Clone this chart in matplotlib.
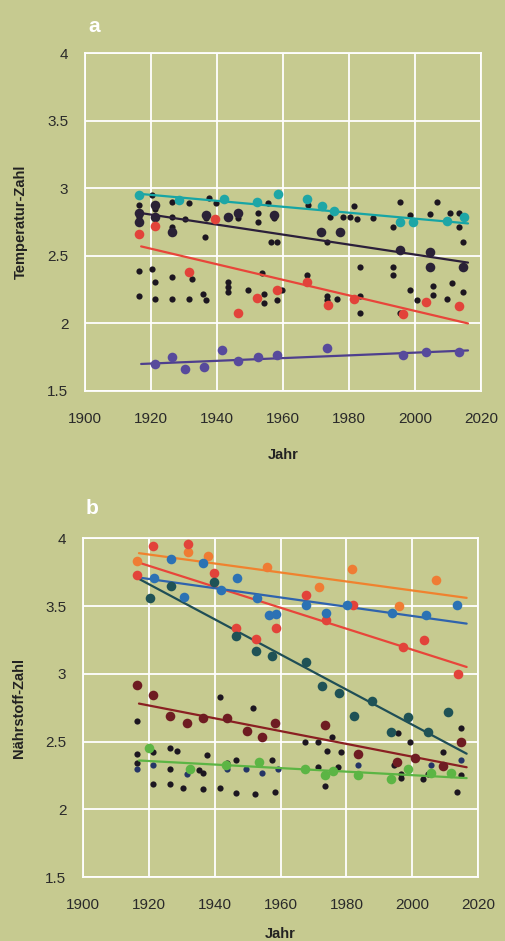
import matplotlib.pyplot as plt

plt.rcParams['font.family'] = ['Liberation Sans', 'DejaVu Sans']

BG = '#c6ca90'

# ---- panel a: Temperatur-Zahl ----
a_black_x = [1920.3, 1916.4, 1921.2, 1926.4, 1931.5, 1937.6, 1939.7, 1916.4, 1926.4, 1926.4,
             1930.3, 1936.7, 1946.4, 1952.4, 1952.4, 1957.3, 1936.4, 1956.4, 1958.2, 1955.5,
             1916.4, 1920.3, 1921.2, 1926.4, 1932.4, 1916.4, 1921.2, 1926.4, 1931.5, 1935.8,
             1936.7, 1943.3, 1943.3, 1943.3, 1949.4, 1953.6, 1954.2, 1954.2, 1958.2, 1959.7,
             1967.6, 1981.5, 1974.2, 1978.2, 1980.3, 1982.4, 1987.3, 1995.5, 2006.7, 1998.5,
             2004.5, 2010.6, 2013.3, 1993.3, 2013.3, 1973.3, 2014.5, 1983.3, 1993.3, 1993.3,
             1967.3, 2011.2, 2005.5, 2005.5, 2014.5, 1998.5, 2000.6, 2009.7, 1973.3, 1973.3,
             1976.4, 1983.3, 1983.3, 1995.5]
a_black_y = [2.95, 2.88, 2.85, 2.90, 2.89, 2.93, 2.89, 2.79, 2.79, 2.71,
             2.77, 2.78, 2.78, 2.82, 2.75, 2.78, 2.64, 2.60, 2.60, 2.89,
             2.39, 2.40, 2.31, 2.34, 2.33, 2.20, 2.18, 2.18, 2.18, 2.22,
             2.17, 2.31, 2.27, 2.23, 2.25, 2.37, 2.22, 2.15, 2.17, 2.25,
             2.88, 2.87, 2.79, 2.79, 2.79, 2.77, 2.78, 2.90, 2.90, 2.80,
             2.81, 2.82, 2.82, 2.71, 2.71, 2.60, 2.60, 2.42, 2.42, 2.36,
             2.36, 2.30, 2.28, 2.21, 2.23, 2.25, 2.17, 2.18, 2.20, 2.17,
             2.18, 2.20, 2.08, 2.08]
a_dark_x = [1916.4, 1916.4, 1921.2, 1921.2, 1926.4, 1936.7, 1943.3, 1946.4, 1957.3, 1971.5,
            1977.3, 1995.5, 2004.5, 2004.5, 2014.5]
a_dark_y = [2.82, 2.75, 2.88, 2.79, 2.68, 2.80, 2.79, 2.82, 2.80, 2.68,
            2.68, 2.54, 2.53, 2.42, 2.42]
a_cyan_x = [1916.4, 1928.5, 1942.0, 1952.1, 1958.5, 1967.3, 1971.8, 1975.5, 1995.5, 1999.4,
            2009.7, 2014.8]
a_cyan_y = [2.95, 2.91, 2.92, 2.90, 2.96, 2.92, 2.87, 2.83, 2.75, 2.75,
            2.76, 2.79]
a_red_x = [1916.4, 1921.2, 1939.4, 1931.5, 1946.4, 1952.1, 1958.2, 1967.3, 1973.6, 1981.5,
           1996.4, 2003.3, 2013.3]
a_red_y = [2.66, 2.72, 2.77, 2.38, 2.08, 2.19, 2.25, 2.31, 2.14, 2.18,
           2.07, 2.16, 2.13]
a_purple_x = [1921.2, 1926.4, 1930.3, 1936.0, 1941.5, 1946.4, 1952.4, 1958.2, 1973.3, 1996.4,
              2003.3, 2013.3]
a_purple_y = [1.70, 1.75, 1.66, 1.68, 1.80, 1.72, 1.75, 1.77, 1.82, 1.77,
              1.79, 1.79]

# trend lines: (start year, end year), (start value, end value)
a_trends = {
    'black': ((1916, 2016), (2.82, 2.45)),
    'cyan': ((1916, 2016), (2.96, 2.74)),
    'red': ((1917, 2016), (2.57, 2.00)),
    'purple': ((1917, 2016), (1.70, 1.80)),
}

# ---- panel b: Naehrstoff-Zahl ----
b_black_x = [1916.4, 1916.4, 1916.4, 1921.3, 1921.3, 1926.4, 1928.6, 1926.4, 1926.4, 1930.4,
             1935.2, 1936.5, 1936.5, 1937.7, 1941.6, 1941.6, 1943.7, 1946.5, 1946.5, 1951.6,
             1952.3, 1957.4, 1958.3, 1967.4, 1971.4, 1971.4, 1973.5, 1974.1, 1975.6, 1978.4,
             1977.5, 1994.5, 1995.7, 1996.6, 1996.6, 1999.3, 2003.3, 2004.8, 2009.4, 2014.8,
             2014.8, 2013.6]
b_black_y = [2.65, 2.41, 2.34, 2.42, 2.19, 2.45, 2.43, 2.30, 2.19, 2.16,
             2.29, 2.27, 2.15, 2.40, 2.83, 2.16, 2.34, 2.36, 2.12, 2.75,
             2.11, 2.36, 2.13, 2.50, 2.50, 2.31, 2.17, 2.43, 2.53, 2.42,
             2.31, 2.33, 2.56, 2.26, 2.23, 2.50, 2.22, 2.26, 2.42, 2.60,
             2.25, 2.13]
b_navy_x = [1916.4, 1921.3, 1931.6, 1943.7, 1949.5, 1954.4, 1959.2, 1983.5, 2005.7, 2014.8]
b_navy_y = [2.30, 2.33, 2.26, 2.30, 2.30, 2.27, 2.30, 2.33, 2.33, 2.36]
b_orange_x = [1916.4, 1931.9, 1938.0, 1955.9, 1971.7, 1981.7, 1996.0, 2007.2]
b_orange_y = [3.83, 3.90, 3.87, 3.79, 3.64, 3.77, 3.50, 3.69]
b_red_x = [1916.4, 1921.3, 1931.9, 1939.8, 1946.5, 1952.6, 1958.6, 1967.7, 1973.8, 1982.0,
           1997.2, 2003.6, 2013.9]
b_red_y = [3.73, 3.94, 3.96, 3.74, 3.34, 3.26, 3.34, 3.58, 3.40, 3.51,
           3.20, 3.25, 3.00]
b_blue_x = [1921.6, 1926.7, 1930.7, 1936.5, 1941.9, 1946.8, 1952.9, 1956.5, 1958.6, 1967.7,
            1973.8, 1980.2, 1993.9, 2004.2, 2013.6]
b_blue_y = [3.71, 3.85, 3.57, 3.82, 3.62, 3.71, 3.56, 3.43, 3.44, 3.51,
            3.45, 3.51, 3.45, 3.43, 3.51]
b_teal_x = [1920.4, 1926.7, 1939.8, 1946.5, 1952.6, 1957.4, 1967.7, 1972.6, 1977.8, 1982.3,
            1987.8, 1993.6, 1998.7, 2004.8, 2010.9]
b_teal_y = [3.56, 3.65, 3.68, 3.28, 3.17, 3.13, 3.09, 2.91, 2.86, 2.69,
            2.80, 2.57, 2.68, 2.57, 2.72]
b_maroon_x = [1916.4, 1921.3, 1926.4, 1931.6, 1936.5, 1943.7, 1949.8, 1954.4, 1958.3, 1973.5,
              1983.5, 1995.4, 2000.9, 2009.4, 2014.8]
b_maroon_y = [2.92, 2.84, 2.69, 2.64, 2.67, 2.67, 2.58, 2.53, 2.64, 2.62,
              2.41, 2.35, 2.38, 2.32, 2.50]
b_green_x = [1920.1, 1932.5, 1943.4, 1953.5, 1967.4, 1973.5, 1976.0, 1983.5, 1993.6, 1998.7,
             2005.7, 2011.8]
b_green_y = [2.45, 2.30, 2.33, 2.35, 2.30, 2.25, 2.28, 2.25, 2.22, 2.30,
             2.27, 2.27]

b_trends = {
    'orange': ((1917, 2016.5), (3.89, 3.56)),
    'red': ((1917, 2016.5), (3.82, 3.05)),
    'blue': ((1917, 2016.5), (3.71, 3.37)),
    'teal': ((1917, 2016.5), (3.70, 2.41)),
    'maroon': ((1917, 2016.5), (2.78, 2.31)),
    'green': ((1917, 2016.5), (2.36, 2.23)),
}

colors = {
    'black': '#1c1620', 'dark': '#2a2236', 'cyan': '#1ea6a6', 'red': '#e2433a',
    'purple': '#574a9c', 'orange': '#ef7c34', 'blue': '#2c72b4', 'teal': '#1f5256',
    'maroon': '#6e1c22', 'green': '#5cb544', 'navy': '#253566',
}
line_colors = {
    'black': '#2b1f3a', 'cyan': '#16a5a5', 'red': '#e8453a', 'purple': '#4e3f8e',
    'orange': '#f0822e', 'blue': '#2f63ad', 'teal': '#1f4e56', 'maroon': '#8a1f22',
    'green': '#5cb544',
}

SMALL = 20
BIG = 48


def style_axes(ax, ylabel):
    ax.set_facecolor(BG)
    ax.set_xlim(1900, 2020)
    ax.set_ylim(1.5, 4)
    ax.set_xticks([1900, 1920, 1940, 1960, 1980, 2000, 2020])
    ax.set_yticks([1.5, 2, 2.5, 3, 3.5, 4])
    ax.set_yticklabels(['1.5', '2', '2.5', '3', '3.5', '4'])
    ax.grid(True, color='white', lw=1.3)
    ax.set_axisbelow(True)
    for s in ax.spines.values():
        s.set_color('white')
        s.set_linewidth(1.3)
    ax.tick_params(length=0, labelsize=11, colors='#2a2a2a')
    ax.tick_params(axis='x', pad=15)
    ax.tick_params(axis='y', pad=12)
    ax.set_xlabel('Jahr', fontsize=10.5, fontweight='bold', color='#222222')
    ax.xaxis.set_label_coords(0.5, -0.17)
    ax.set_ylabel(ylabel, fontsize=10.5, fontweight='bold', color='#222222')
    ax.yaxis.set_label_coords(-0.145, 0.5)


def draw_trends(ax, trends):
    for name, (xs, ys) in trends.items():
        ax.plot(xs, ys, color=line_colors[name], lw=1.6, zorder=3, solid_capstyle='round')


fig = plt.figure(figsize=(5.06, 9.41), dpi=100, facecolor=BG)
ax_a = fig.add_axes([0.168, 0.5845, 0.783, 0.359])
ax_b = fig.add_axes([0.164, 0.068, 0.781, 0.360])

# panel a
style_axes(ax_a, 'Temperatur-Zahl')
ax_a.scatter(a_black_x, a_black_y, s=SMALL, color=colors['black'], lw=0, zorder=2)
ax_a.scatter(a_dark_x, a_dark_y, s=BIG, color=colors['dark'], lw=0, zorder=2)
draw_trends(ax_a, a_trends)
ax_a.scatter(a_cyan_x, a_cyan_y, s=BIG, color=colors['cyan'], lw=0, zorder=4)
ax_a.scatter(a_red_x, a_red_y, s=BIG, color=colors['red'], lw=0, zorder=4)
ax_a.scatter(a_purple_x, a_purple_y, s=BIG, color=colors['purple'], lw=0, zorder=4)

# panel b
style_axes(ax_b, 'Nährstoff-Zahl')
ax_b.xaxis.set_label_coords(0.5, -0.148)
ax_b.scatter(b_black_x, b_black_y, s=SMALL, color=colors['black'], lw=0, zorder=2)
ax_b.scatter(b_navy_x, b_navy_y, s=SMALL, color=colors['navy'], lw=0, zorder=2)
draw_trends(ax_b, b_trends)
for name, xs, ys in [('orange', b_orange_x, b_orange_y), ('red', b_red_x, b_red_y),
                     ('blue', b_blue_x, b_blue_y), ('teal', b_teal_x, b_teal_y),
                     ('maroon', b_maroon_x, b_maroon_y), ('green', b_green_x, b_green_y)]:
    ax_b.scatter(xs, ys, s=BIG, color=colors[name], lw=0, zorder=4)

fig.text(88 / 506, 1 - 27 / 941, 'a', color='white', fontsize=15, fontweight='bold',
         va='center', ha='left')
fig.text(86 / 506, 1 - 508 / 941, 'b', color='white', fontsize=15, fontweight='bold',
         va='center', ha='left')

fig.savefig('out.png', dpi=100, facecolor=BG)
